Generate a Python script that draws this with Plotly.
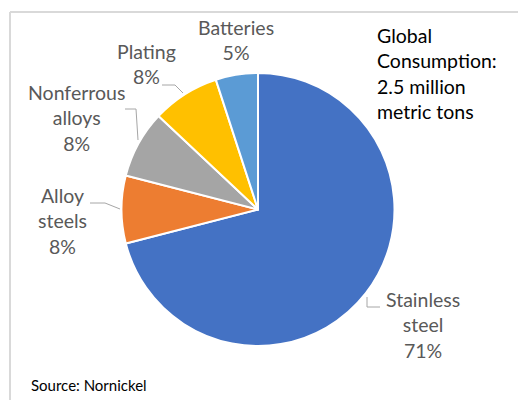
import plotly.graph_objects as go

W, H = 518, 400

# ---- data ----
categories = ["Stainless steel", "Alloy steels", "Nonferrous alloys", "Plating", "Batteries"]
values = [71, 8, 8, 8, 5]
label_lines = ["Stainless<br>steel", "Alloy<br>steels", "Nonferrous<br>alloys", "Plating", "Batteries"]
colors = ["#4472C4", "#ED7D31", "#A5A5A5", "#FFC000", "#5B9BD5"]
note_text = "Global<br>Consumption:<br>2.5 million<br>metric tons"
source_text = "Source: Nornickel"

# ---- layout helpers (pixel -> paper) ----
def px(x):
    return x / W

def py(y):
    return 1 - y / H

cx, cy, r = 258, 209.5, 136.5
FAM = "Lato, Carlito, Calibri, sans-serif"

fig = go.Figure(go.Pie(
    labels=categories,
    values=values,
    sort=False,
    direction="clockwise",
    rotation=0,
    marker=dict(colors=colors, line=dict(color="white", width=2)),
    textinfo="none",
    hoverinfo="label+percent",
    showlegend=False,
    domain=dict(x=[px(cx - r), px(cx + r)], y=[py(cy + r), py(cy - r)]),
))

label_pos = [(423, 325), (62, 221), (76, 118), (146, 64), (236, 40)]
font_lbl = dict(family=FAM, size=19.5, color="#595959")
annotations = []
for name, v, (x, y) in zip(label_lines, values, label_pos):
    annotations.append(dict(
        text=f"{name}<br>{v}%", x=px(x), y=py(y), xref="paper", yref="paper",
        xanchor="center", yanchor="middle", showarrow=False, align="center",
        font=font_lbl,
    ))
annotations.append(dict(
    text=note_text, x=px(375), y=py(73.5), xref="paper", yref="paper",
    xanchor="left", yanchor="middle", showarrow=False, align="left",
    font=dict(family=FAM, size=19.5, color="#000000"),
))
annotations.append(dict(
    text=source_text, x=px(29), y=py(385), xref="paper", yref="paper",
    xanchor="left", yanchor="middle", showarrow=False, align="left",
    font=dict(family=FAM, size=15, color="#000000"),
))

leaders = [
    [(367, 297), (367, 307), (380, 307)],
    [(90, 203), (105, 203), (120, 209)],
    [(125, 109), (136, 109), (138, 140)],
    [(162, 85), (175, 85), (183, 93)],
]
shapes = []
for pts in leaders:
    path = "M " + " L ".join(f"{px(x)},{py(y)}" for x, y in pts)
    shapes.append(dict(type="path", path=path, xref="paper", yref="paper",
                       line=dict(color="#A6A6A6", width=1)))
# frame lines
shapes.append(dict(type="line", xref="paper", yref="paper", x0=px(10), y0=py(12), x1=1, y1=py(12),
                   line=dict(color="#D9D9D9", width=2)))
shapes.append(dict(type="line", xref="paper", yref="paper", x0=px(10), y0=py(12), x1=px(10), y1=0,
                   line=dict(color="#D9D9D9", width=2)))

fig.update_layout(
    width=W, height=H,
    margin=dict(l=0, r=0, t=0, b=0),
    paper_bgcolor="white", plot_bgcolor="white",
    annotations=annotations, shapes=shapes,
)

fig.write_html("out.html")
